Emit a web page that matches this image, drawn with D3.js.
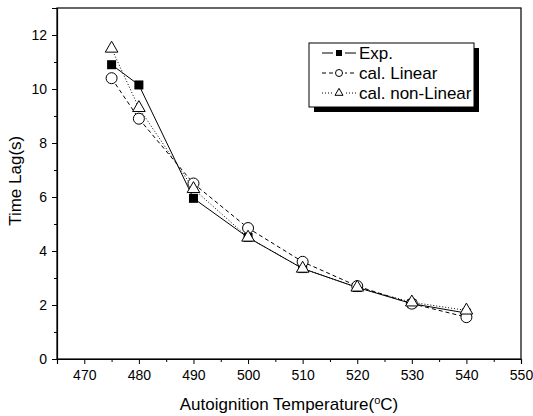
<!DOCTYPE html>
<html>
<head>
<meta charset="utf-8">
<script src="https://cdn.jsdelivr.net/npm/d3@7"></script>
<style>
  body { margin: 0; background: #fff; }
  svg { display: block; font-family: "Liberation Sans", Arial, sans-serif; }
</style>
</head>
<body>
<div id="chart"></div>
<script>
// data
const temps = [475, 480, 490, 500, 510, 520, 530, 540];
const expVals = [10.9, 10.15, 5.95, 4.5, 3.35, 2.65, 2.05, 1.7];
const linearVals = [10.4, 8.9, 6.5, 4.85, 3.6, 2.7, 2.05, 1.55];
const nonLinearVals = [11.5, 9.3, 6.3, 4.5, 3.35, 2.65, 2.1, 1.8];
const xTicks = [470, 480, 490, 500, 510, 520, 530, 540, 550];
const yTicks = [0, 2, 4, 6, 8, 10, 12];
const seriesNames = ["Exp.", "cal. Linear", "cal. non-Linear"];

const width = 533, height = 416;
const margin = { top: 8, right: 12, bottom: 57, left: 57 };
const w = width - margin.left - margin.right;
const h = height - margin.top - margin.bottom;

const svg = d3.select("#chart").append("svg")
    .attr("width", width)
    .attr("height", height);

const chart = svg.append("g")
    .attr("transform", `translate(${margin.left},${margin.top})`);

const x = d3.scaleLinear().domain([465, 550]).range([0, w]);
const y = d3.scaleLinear().domain([0, 13]).range([h, 0]);

// frame
chart.append("rect")
    .attr("width", w).attr("height", h)
    .attr("fill", "none").attr("stroke", "#000").attr("stroke-width", 1.2);

// minor ticks
const xMinor = d3.range(465, 550, 5).filter(d => d % 10 !== 0);
const yMinor = d3.range(1, 13, 2);

chart.append("g")
    .attr("transform", `translate(0,${h})`)
    .call(d3.axisBottom(x).tickValues(xTicks).tickSize(5).tickPadding(6).tickFormat(d3.format("d")));
chart.append("g")
    .attr("transform", `translate(0,${h})`)
    .call(d3.axisBottom(x).tickValues(xMinor).tickSize(3).tickFormat(""))
    .select(".domain").remove();

chart.append("g")
    .call(d3.axisLeft(y).tickValues(yTicks).tickSize(5).tickPadding(5));
chart.append("g")
    .call(d3.axisLeft(y).tickValues(yMinor).tickSize(3).tickFormat(""))
    .select(".domain").remove();

chart.selectAll(".tick text")
    .attr("font-size", 14)
    .attr("font-family", "Liberation Sans, Arial, sans-serif")
    .attr("fill", "#000");
chart.selectAll(".domain").attr("stroke-width", 1.2);

// axis titles
const xTitle = svg.append("text")
    .attr("x", margin.left + w / 2)
    .attr("y", 410)
    .attr("text-anchor", "middle")
    .attr("font-size", 17);
xTitle.append("tspan").text("Autoignition Temperature(");
xTitle.append("tspan").attr("font-size", 11).attr("dy", -6).text("o");
xTitle.append("tspan").attr("dy", 6).text("C)");

svg.append("text")
    .attr("transform", `translate(21,${margin.top + y(6.6)}) rotate(-90)`)
    .attr("text-anchor", "middle")
    .attr("font-size", 17)
    .text("Time Lag(s)");

// series
const series = [
    { name: seriesNames[0], values: expVals, dash: null, marker: "square" },
    { name: seriesNames[1], values: linearVals, dash: "4,3", marker: "circle" },
    { name: seriesNames[2], values: nonLinearVals, dash: "1,2", marker: "triangle" }
];

const line = d3.line()
    .x(d => x(d[0]))
    .y(d => y(d[1]));

function drawMarker(g, type, size) {
    if (type === "square") {
        g.append("rect")
            .attr("x", -size / 2).attr("y", -size / 2)
            .attr("width", size).attr("height", size)
            .attr("fill", "#000");
    } else if (type === "circle") {
        g.append("circle")
            .attr("r", size / 2)
            .attr("fill", "#fff").attr("stroke", "#000").attr("stroke-width", 1);
    } else {
        const s = size * 1.15;
        g.append("path")
            .attr("d", d3.symbol(d3.symbolTriangle, s * s * 0.43)())
            .attr("fill", "#fff").attr("stroke", "#000").attr("stroke-width", 1);
    }
}

series.forEach(s => {
    const pts = temps.map((t, i) => [t, s.values[i]]);
    chart.append("path")
        .attr("d", line(pts))
        .attr("fill", "none")
        .attr("stroke", "#000")
        .attr("stroke-width", 1)
        .attr("stroke-dasharray", s.dash);
});

// markers: squares first, open symbols on top like the figure
series.forEach(s => {
    temps.forEach((t, i) => {
        const g = chart.append("g")
            .attr("transform", `translate(${x(t)},${y(s.values[i])})`);
        drawMarker(g, s.marker, s.marker === "square" ? 9 : 11);
    });
});

// legend
const legend = svg.append("g").attr("transform", "translate(309,43)");
legend.append("rect")
    .attr("x", 5).attr("y", 5)
    .attr("width", 165).attr("height", 64)
    .attr("fill", "#000");
legend.append("rect")
    .attr("width", 165).attr("height", 64)
    .attr("fill", "#fff").attr("stroke", "#000").attr("stroke-width", 1);

series.forEach((s, i) => {
    const ly = 10 + i * 20;
    const row = legend.append("g").attr("transform", `translate(0,${ly})`);
    row.append("line")
        .attr("x1", 13).attr("x2", 47)
        .attr("stroke", "#000").attr("stroke-width", 1)
        .attr("stroke-dasharray", s.dash);
    const m = row.append("g").attr("transform", "translate(30,0)");
    m.append("rect").attr("x", -6).attr("y", -6).attr("width", 12).attr("height", 12).attr("fill", "#fff");
    drawMarker(m, s.marker, s.marker === "square" ? 6 : 7);
    row.append("text")
        .attr("x", 50).attr("y", 6)
        .attr("font-size", 17)
        .text(s.name);
});
</script>
</body>
</html>
